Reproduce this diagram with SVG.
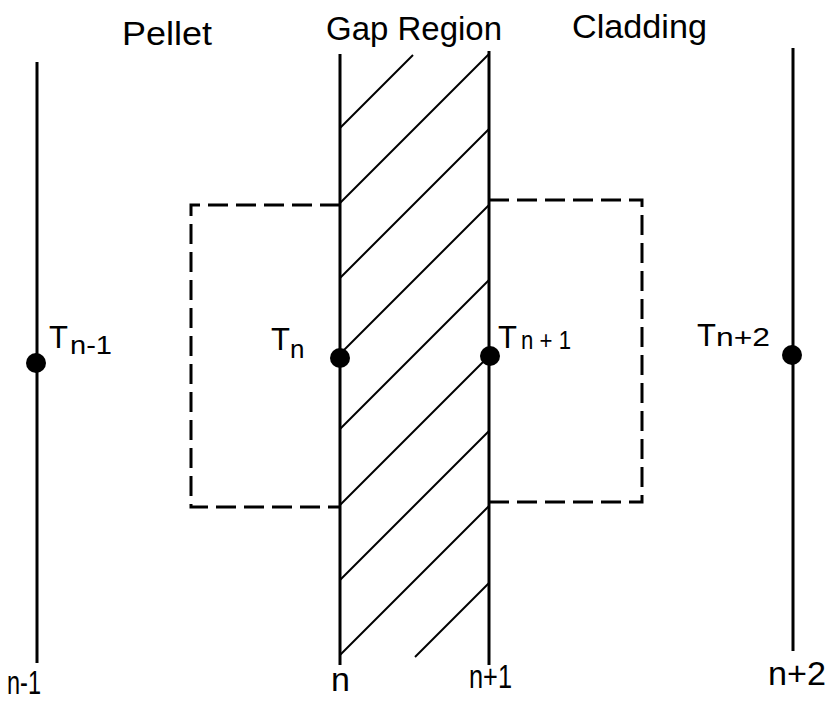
<svg xmlns="http://www.w3.org/2000/svg" width="830" height="701" viewBox="0 0 830 701">
<style>
.grid{stroke:#000;stroke-width:3;fill:none}
.hatch{stroke:#000;stroke-width:2;fill:none}
.box{stroke:#000;stroke-width:3;fill:none;stroke-dasharray:20 8}
.dot{fill:#000}
text{font-family:"Liberation Sans",Arial,sans-serif;fill:#000}
.title{font-size:33px}
.big{font-size:31px}
.sub{font-size:26px}
.lab{font-size:34px}
</style>
<rect width="830" height="701" fill="#fff"/>
<g id="titles">
<text class="title" x="122" y="45" textLength="90" lengthAdjust="spacingAndGlyphs">Pellet</text>
<text class="title" x="326" y="40" textLength="176" lengthAdjust="spacingAndGlyphs">Gap Region</text>
<text class="title" x="572" y="38" textLength="135" lengthAdjust="spacingAndGlyphs">Cladding</text>
</g>
<g id="hatching">
<line class="hatch" x1="340" y1="128" x2="413" y2="55"/>
<line class="hatch" x1="340" y1="203" x2="489" y2="54"/>
<line class="hatch" x1="340" y1="278" x2="489" y2="129"/>
<line class="hatch" x1="340" y1="354" x2="489" y2="205"/>
<line class="hatch" x1="340" y1="429" x2="489" y2="280"/>
<line class="hatch" x1="340" y1="505" x2="489" y2="356"/>
<line class="hatch" x1="340" y1="580" x2="489" y2="431"/>
<line class="hatch" x1="340" y1="655" x2="489" y2="506"/>
<line class="hatch" x1="415" y1="657" x2="489" y2="583"/>
</g>
<g id="control-volumes">
<path class="box" d="M340,205 H191 V507 H340"/>
<path class="box" d="M489,200 H642 V502 H489"/>
</g>
<g id="node-n-1">
<line class="grid" x1="37" y1="62" x2="37" y2="663"/>
<circle class="dot" cx="36" cy="363" r="10"/>
<text class="big" x="49" y="348">T</text>
<text class="sub" x="70" y="354" textLength="42" lengthAdjust="spacingAndGlyphs">n-1</text>
<text class="lab" x="7" y="694" textLength="34" lengthAdjust="spacingAndGlyphs">n-1</text>
</g>
<g id="node-n">
<line class="grid" x1="340" y1="54" x2="340" y2="665"/>
<circle class="dot" cx="340" cy="358" r="10"/>
<text class="big" x="271" y="350">T</text>
<text class="sub" x="290" y="358">n</text>
<text class="lab" x="331" y="691">n</text>
</g>
<g id="node-n+1">
<line class="grid" x1="489" y1="51" x2="489" y2="665"/>
<circle class="dot" cx="490" cy="356" r="10"/>
<text class="big" x="498" y="348">T</text>
<text class="sub" x="521" y="349" textLength="50" lengthAdjust="spacingAndGlyphs">n + 1</text>
<text class="lab" x="469" y="688" textLength="43" lengthAdjust="spacingAndGlyphs">n+1</text>
</g>
<g id="node-n+2">
<line class="grid" x1="793" y1="48" x2="793" y2="651"/>
<circle class="dot" cx="792" cy="355" r="10"/>
<text class="big" x="697" y="346">T</text>
<text class="sub" x="716" y="346" textLength="54" lengthAdjust="spacingAndGlyphs">n+2</text>
<text class="lab" x="768" y="685" textLength="58" lengthAdjust="spacingAndGlyphs">n+2</text>
</g>
</svg>
